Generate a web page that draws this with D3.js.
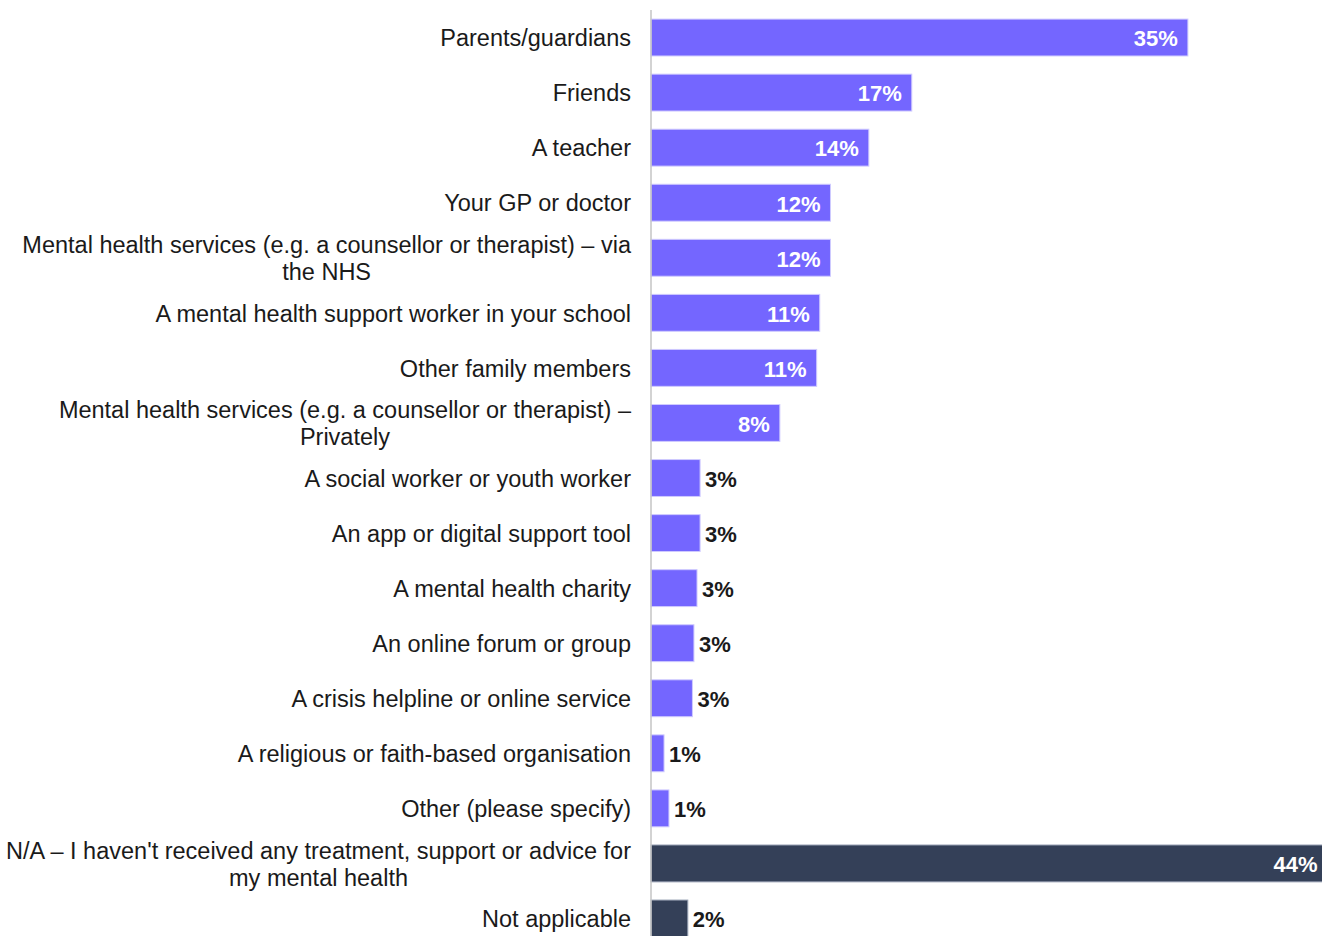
<!DOCTYPE html>
<html>
<head>
<meta charset="utf-8">
<script src="https://cdn.jsdelivr.net/npm/d3@7"></script>
<style>
  body { margin: 0; background: #fff; }
  svg { display: block; font-family: "Liberation Sans", Arial, sans-serif; }
</style>
</head>
<body>
<script>
// categories, line breaks marked with \n
var categories = [
    "Parents/guardians",
    "Friends",
    "A teacher",
    "Your GP or doctor",
    "Mental health services (e.g. a counsellor or therapist) – via\nthe NHS",
    "A mental health support worker in your school",
    "Other family members",
    "Mental health services (e.g. a counsellor or therapist) –\nPrivately",
    "A social worker or youth worker",
    "An app or digital support tool",
    "A mental health charity",
    "An online forum or group",
    "A crisis helpline or online service",
    "A religious or faith-based organisation",
    "Other (please specify)",
    "N/A – I haven't received any treatment, support or advice for\nmy mental health",
    "Not applicable"
];

var values = [35, 17, 14.2, 11.7, 11.7, 11.0, 10.8, 8.4, 3.2, 3.2, 3.0, 2.8, 2.7, 0.85, 1.17, 44.1, 2.4];

// last two rows are the "not applicable" group
var groups = ["main", "main", "main", "main", "main", "main", "main", "main",
    "main", "main", "main", "main", "main", "main", "main", "na", "na"];

var colors = { main: "#7466ff", na: "#344058" };
var edges = { main: "#cfcaff", na: "#9aa3b5" };

var width = 1322,
    height = 936,
    axisX = 651;

var data = categories.map(function (c, i) {
    return { label: c, value: values[i], group: groups[i] };
});

var x = d3.scaleLinear()
    .domain([0, 44])
    .range([axisX, axisX + 44 * 15.34]);

var y = d3.scaleBand()
    .domain(categories)
    .range([10, 10 + 17 * 55.06])
    .paddingInner(0.33)
    .paddingOuter(0.165);

var svg = d3.select("body").append("svg")
    .attr("width", width)
    .attr("height", height);

svg.selectAll(".bar")
    .data(data)
    .enter().append("rect")
    .attr("class", "bar")
    .attr("x", x(0))
    .attr("y", function (d) { return y(d.label); })
    .attr("width", function (d) { return x(d.value) - x(0); })
    .attr("height", y.bandwidth())
    .attr("fill", function (d) { return colors[d.group]; })
    .attr("stroke", function (d) { return edges[d.group]; })
    .attr("stroke-width", 1);

// axis line
svg.append("line")
    .attr("x1", axisX).attr("x2", axisX)
    .attr("y1", 10).attr("y2", height)
    .attr("stroke", "#c4c4c4")
    .attr("stroke-width", 1.5);

// value labels
svg.selectAll(".val")
    .data(data)
    .enter().append("text")
    .attr("class", "val")
    .attr("x", function (d) { return d.value > 5 ? x(d.value) - 10 : x(d.value) + 5; })
    .attr("y", function (d) { return y(d.label) + y.bandwidth() / 2; })
    .attr("dy", "0.4em")
    .attr("text-anchor", function (d) { return d.value > 5 ? "end" : "start"; })
    .attr("fill", function (d) { return d.value > 5 ? "#ffffff" : "#1a1a1a"; })
    .style("font-size", "22px")
    .style("font-weight", "bold")
    .text(function (d) { return Math.round(d.value) + "%"; });

// category labels
var labelRight = axisX - 20;
var cat = svg.selectAll(".cat")
    .data(data)
    .enter().append("g")
    .attr("class", "cat")
    .attr("transform", function (d) {
        return "translate(0," + (y(d.label) + y.bandwidth() / 2) + ")";
    });

cat.each(function (d) {
    var g = d3.select(this);
    var lines = d.label.split("\n");
    if (lines.length === 1) {
        g.append("text")
            .attr("x", labelRight)
            .attr("dy", "0.37em")
            .attr("text-anchor", "end")
            .attr("fill", "#1a1a1a")
            .style("font-size", "23.5px")
            .text(lines[0]);
    } else {
        var first = g.append("text")
            .attr("x", labelRight)
            .attr("y", -13.5)
            .attr("dy", "0.37em")
            .attr("text-anchor", "end")
            .attr("fill", "#1a1a1a")
            .style("font-size", "23.5px")
            .text(lines[0]);
        var w = first.node().getComputedTextLength();
        g.append("text")
            .attr("x", labelRight - w / 2)
            .attr("y", 13.5)
            .attr("dy", "0.37em")
            .attr("text-anchor", "middle")
            .attr("fill", "#1a1a1a")
            .style("font-size", "23.5px")
            .text(lines[1]);
    }
});
</script>
</body>
</html>
